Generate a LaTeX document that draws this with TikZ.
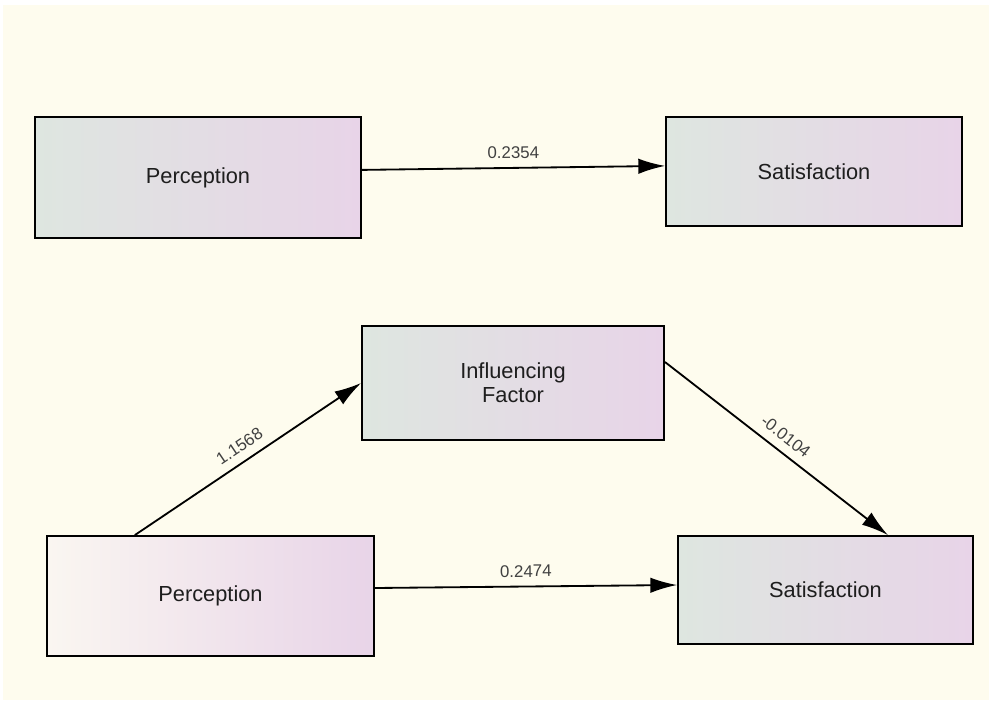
\documentclass[tikz,border=0pt]{standalone}
\usepackage{fontspec}
\setmainfont{Liberation Sans}
\usepackage{xcolor}
\usetikzlibrary{arrows.meta}

\definecolor{paper}{RGB}{254,252,238}
\definecolor{boxgreen}{RGB}{222,230,224}
\definecolor{boxpink}{RGB}{232,212,232}
\definecolor{boxwhite}{RGB}{250,246,241}
\definecolor{txtgray}{RGB}{30,30,30}

\tikzset{
  varbox/.style={draw=black, line width=1.3pt, left color=boxgreen, right color=boxpink,
    text=txtgray, font=\fontsize{15.5}{17}\selectfont, align=center, inner sep=0pt},
  path/.style={line width=1.3pt, -{Latex[length=19pt,width=11pt]}},
  coef/.style={font=\fontsize{12}{14}\selectfont, text=txtgray!85, inner sep=1pt, midway, sloped, above=5pt}
}

\begin{document}
\begin{tikzpicture}[x=0.025cm, y=-0.025cm]
\useasboundingbox (0,0) rectangle (989,700);
\fill[white] (0,0) rectangle (989,700);
\fill[paper] (3,5) rectangle (989,700);

\node[varbox, minimum width=8.15cm, minimum height=3.025cm] (perc1) at (198,177.5) {Perception};
\node[varbox, minimum width=7.4cm, minimum height=2.725cm] (sat1) at (814,171.5) {Satisfaction};

\node[varbox, minimum width=7.55cm, minimum height=2.85cm] (infl) at (513,383) {Influencing\\Factor};
\node[varbox, left color=boxwhite, minimum width=8.175cm, minimum height=3cm] (perc2) at (210.5,596) {Perception};
\node[varbox, minimum width=7.375cm, minimum height=2.7cm] (sat2) at (825.5,590) {Satisfaction};

\draw[path] ([yshift=0.19cm]perc1.east) -- ([yshift=0.14cm]sat1.west) node[coef] {0.2354};
\draw[path] ([xshift=-1.89cm]perc2.north) -- (infl.west) node[coef] {1.1568};
\draw[path] ([yshift=0.525cm]infl.east) -- ([xshift=1.56cm]sat2.north) node[coef] {-0.0104};
\draw[path] ([yshift=0.2cm]perc2.east) -- ([yshift=0.125cm]sat2.west) node[coef] {0.2474};

\end{tikzpicture}
\end{document}
